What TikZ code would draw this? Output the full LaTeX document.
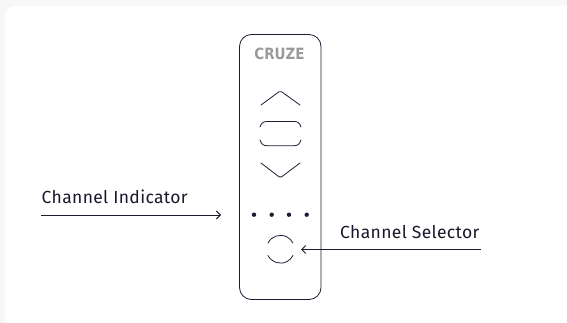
\documentclass[tikz,border=0pt]{standalone}
\usepackage{fontspec}
\setmainfont{Fira Sans}[LetterSpace=2.0]
\newfontfamily\logofont{DejaVu Sans}
\usetikzlibrary{arrows.meta}
\definecolor{ink}{HTML}{1B1E33}
\definecolor{pagebg}{HTML}{F7F7F7}
\definecolor{logo}{HTML}{9A9A9A}
\tikzset{
 thin line/.style={draw=ink,line width=0.8pt,line cap=round,line join=round},
 label text/.style={font=\fontsize{17.5}{19}\selectfont,text=ink!85!black,inner sep=0pt,anchor=base west},
 dotmark/.style={circle,fill=ink,inner sep=0pt,minimum size=4.4pt},
 pointer/.style={draw=ink,line width=0.9pt,-{Straight Barb[length=4pt,width=8pt]}}
}
\begin{document}
\begin{tikzpicture}[x=1pt,y=-1pt]
\useasboundingbox (0,0) rectangle (567,323);
\fill[pagebg] (0,0) rectangle (567,323);
\fill[white,rounded corners=10pt] (5,6) rectangle (580,326);
\draw[thin line,rounded corners=12pt] (239.5,34.5) rectangle (321,299.5);
\node[font=\logofont\bfseries\fontsize{13.5}{14}\selectfont,text=logo,inner sep=0pt,yscale=1.15] (logo) at (279.5,53.5) {CRUZE};
% up chevron
\draw[thin line,rounded corners=1.5pt] (261,105) -- (280.3,90.8) -- (300,105);
% middle button
\draw[thin line] (260,127) .. controls (261.5,123) and (263,121.5) .. (267,121.5) -- (294,121.5) .. controls (298,121.5) and (299.5,123) .. (301,127);
\draw[thin line] (260,140) .. controls (261.5,144) and (263,145.7) .. (267,145.7) -- (294,145.7) .. controls (298,145.7) and (299.5,144) .. (301,140);
% down chevron
\draw[thin line,rounded corners=1.5pt] (261,163) -- (280.3,177.8) -- (300,163);
\node[dotmark] (d1) at (254,214.7) {};
\node[dotmark] (d2) at (271.7,214.7) {};
\node[dotmark] (d3) at (289,214.7) {};
\node[dotmark] (d4) at (306.7,214.7) {};
% selector
\draw[thin line] (268,243) arc[start angle=-153,end angle=-27,radius=14];
\draw[thin line] (268,255.5) arc[start angle=153,end angle=27,radius=14];
\node[label text] (ci) at (41.5,203.5) {Channel Indicator};
\node[label text] (cs) at (340,238) {Channel Selector};
\coordinate (a1) at (41,215);
\coordinate (a2) at (221,215);
\coordinate (b1) at (481,249.5);
\coordinate (b2) at (301,249.5);
\draw[pointer] (a1) -- (a2);
\draw[pointer] (b1) -- (b2);
\end{tikzpicture}
\end{document}
